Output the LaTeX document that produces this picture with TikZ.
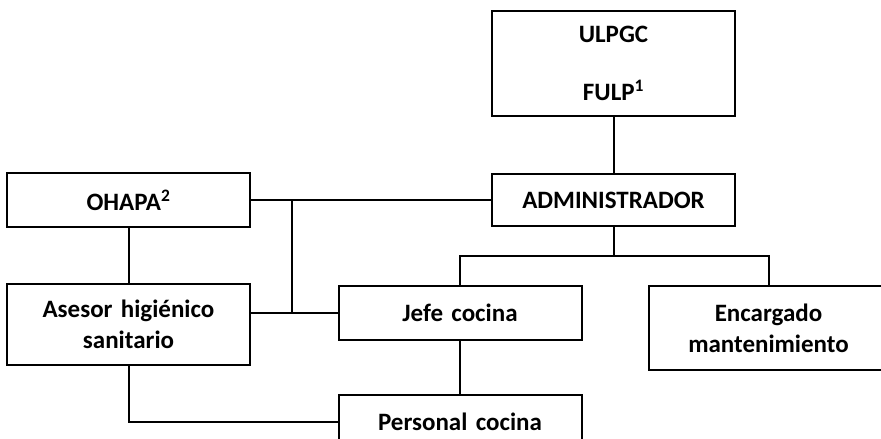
\documentclass[tikz,border=0pt]{standalone}
\usepackage{fontspec}
\setmainfont{Carlito}
\usepackage{tikz}
\usetikzlibrary{positioning}
\tikzstyle{wblock} = [rectangle, draw, line width=2pt, fill=white,
text width=227pt, text centered, inner sep=8pt, minimum height=54pt]
\tikzstyle{link} = [-, line width=2pt]

\begin{document}
\begin{tikzpicture}[x=1pt, y=-1pt]
                \tikzstyle{every node}=[font=\fontsize{25}{31}\selectfont\bfseries]
                \clip (0,0) rectangle (881,439);
                \node (ulpgc) [wblock, minimum height=105pt] at (613.5,63.5) {ULPGC\\[27pt]FULP\textsuperscript{1}};
                \node (admin) [wblock, below=56pt of ulpgc, minimum height=52pt] {ADMINISTRADOR};
                \node (ohapa) [wblock, left=240pt of admin] {OHAPA\textsuperscript{2}};
                \node (asesor) [wblock, below=55pt of ohapa, minimum height=81pt] {Asesor higiénico\\sanitario};
                \node (jefe) [wblock, below=58pt of admin, xshift=-153.5pt] {Jefe cocina};
                \node (encargado) [wblock, below=58pt of admin, xshift=155pt, text width=224pt, minimum height=84pt] {Encargado\\mantenimiento};
                \node (personal) [wblock, below=53pt of jefe] {Personal cocina};
                \coordinate (bar) at ([xshift=41pt]ohapa.east);
                \coordinate (fork) at ([yshift=-29pt]admin.south);
                \draw [link] (ulpgc.south) -- (admin.north);
                \draw [link] (ohapa) -- (admin);
                \draw [link] (ohapa) -- (asesor);
                \draw [link] (bar) -- (bar |- jefe.west);
                \draw [link] (jefe.west) -- (jefe.west -| asesor.east);
                \draw [link] (asesor.south) |- (personal.west);
                \draw [link] (admin.south) -- (fork) -| (jefe.north);
                \draw [link] (fork) -| (encargado.north);
                \draw [link] (jefe) -- (personal);
        \end{tikzpicture}
\end{document}
